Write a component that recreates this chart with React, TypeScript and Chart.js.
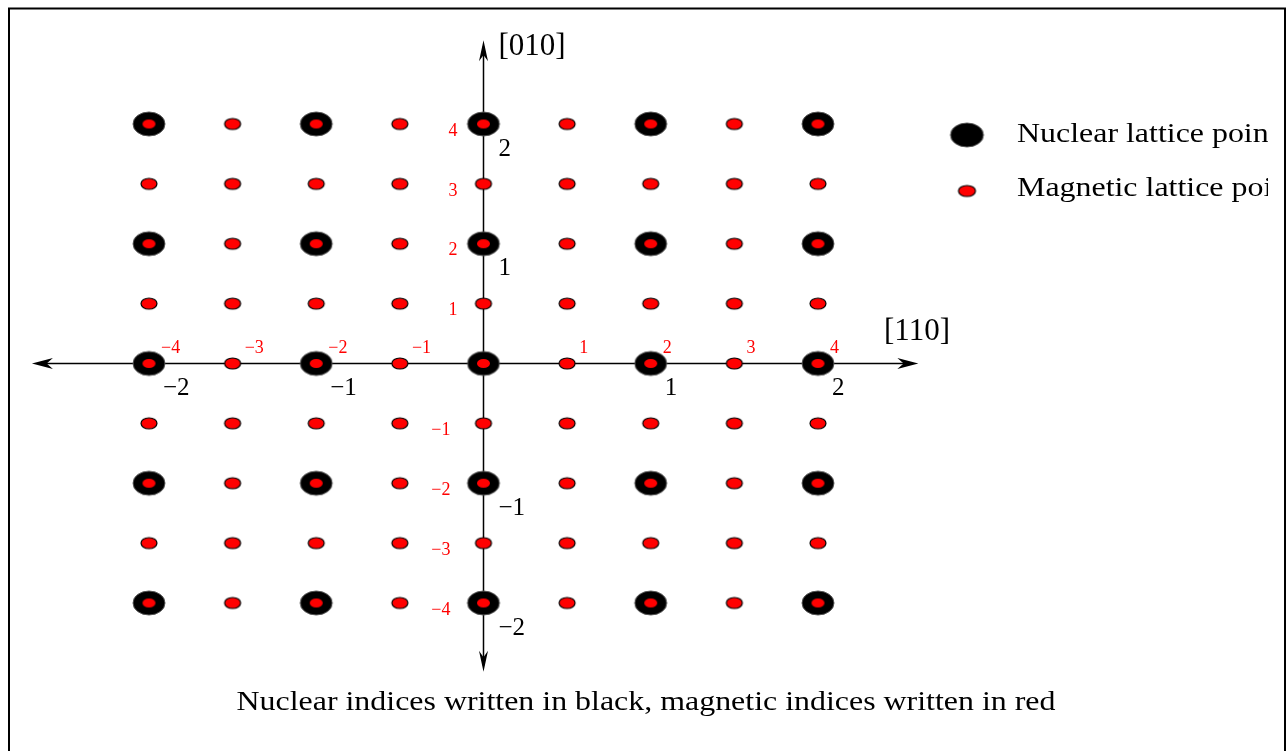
import React, { useEffect, useRef } from 'react';
import { Chart, registerables } from 'chart.js';

Chart.register(...registerables);

// ---- data (lattice indices) ----
const magneticH = [-4, -3, -2, -1, 0, 1, 2, 3, 4];
const magneticK = [-4, -3, -2, -1, 0, 1, 2, 3, 4];
const nuclearH = [-2, -1, 0, 1, 2];
const nuclearK = [-2, -1, 0, 1, 2];
const magneticTickValues = [-4, -3, -2, -1, 1, 2, 3, 4];
const magneticTickLabels = ['\u22124', '\u22123', '\u22122', '\u22121', '1', '2', '3', '4'];
const nuclearTickValues = [-2, -1, 1, 2];
const nuclearTickLabels = ['\u22122', '\u22121', '1', '2'];
const xAxisTitle = '[110]';
const yAxisTitle = '[010]';
const legendLabels = ['Nuclear lattice points', 'Magnetic lattice points'];
const caption = 'Nuclear indices written in black, magnetic indices written in red';

const W = 1288;
const H = 751;
const SERIF = '"Liberation Serif", "Times New Roman", Times, serif';

function makeEllipse(rx: number, ry: number, fill: string, stroke: string | null, lw: number) {
  const c = document.createElement('canvas');
  const pad = 2;
  c.width = Math.ceil(rx * 2 + pad * 2);
  c.height = Math.ceil(ry * 2 + pad * 2);
  const g = c.getContext('2d')!;
  g.beginPath();
  g.ellipse(c.width / 2, c.height / 2, rx, ry, 0, 0, Math.PI * 2);
  g.fillStyle = fill;
  g.fill();
  if (stroke) {
    g.lineWidth = lw;
    g.strokeStyle = stroke;
    g.stroke();
  }
  return c;
}

function drawText(
  ctx: CanvasRenderingContext2D,
  text: string,
  x: number,
  y: number,
  size: number,
  color: string,
  align: CanvasTextAlign,
  sx = 1
) {
  ctx.save();
  ctx.translate(x, y);
  ctx.scale(sx, 1);
  ctx.font = `${size}px ${SERIF}`;
  ctx.fillStyle = color;
  ctx.textAlign = align;
  ctx.textBaseline = 'middle';
  ctx.fillText(text, 0, 0);
  ctx.restore();
}

function arrowHead(ctx: CanvasRenderingContext2D, x: number, y: number, dir: 'l' | 'r' | 'u' | 'd', len: number, half: number) {
  ctx.save();
  ctx.translate(x, y);
  const rot = { r: 0, l: Math.PI, u: -Math.PI / 2, d: Math.PI / 2 }[dir];
  ctx.rotate(rot);
  ctx.beginPath();
  ctx.moveTo(0, 0);
  ctx.lineTo(-len, -half);
  ctx.lineTo(-len * 0.7, 0);
  ctx.lineTo(-len, half);
  ctx.closePath();
  ctx.fillStyle = '#000';
  ctx.fill();
  ctx.restore();
}

export default function App() {
  const ref = useRef<HTMLCanvasElement | null>(null);

  useEffect(() => {
    const canvas = ref.current;
    if (!canvas) return;
    let chart: Chart | null = null;
    let cancelled = false;

    const build = () => {
      if (cancelled) return;
      const nuclearImg = makeEllipse(16, 12, '#000', '#555', 1);
      const magneticImg = makeEllipse(8, 5.5, '#ff0000', '#000', 1.2);
      const innerImg = makeEllipse(6.5, 4.5, '#ff0000', null, 0);
      const legendNuclear = makeEllipse(16.5, 12, '#000', '#555', 1);
      const legendMagnetic = makeEllipse(8.5, 5.5, '#ff0000', '#000', 1.2);

      const magneticPts: { x: number; y: number }[] = [];
      magneticK.forEach((k) => magneticH.forEach((h) => magneticPts.push({ x: h, y: k })));
      const nuclearPts: { x: number; y: number }[] = [];
      nuclearK.forEach((k) => nuclearH.forEach((h) => nuclearPts.push({ x: 2 * h, y: 2 * k })));

      const isNuclear = (p: { x: number; y: number }) => p.x % 2 === 0 && p.y % 2 === 0;

      const decor = {
        id: 'decor',
        beforeDatasetsDraw(ch: any) {
          const ctx: CanvasRenderingContext2D = ch.ctx;
          const xs = ch.scales.x;
          const ys = ch.scales.y;
          const ox = xs.getPixelForValue(0);
          const oy = ys.getPixelForValue(0);
          ctx.save();
          ctx.fillStyle = '#fff';
          ctx.fillRect(0, 0, W, H);
          ctx.strokeStyle = '#000';
          ctx.lineWidth = 2;
          ctx.strokeRect(9, 8.5, 1276, 760);
          const xl = xs.getPixelForValue(-5.4);
          const xr = xs.getPixelForValue(5.2);
          const yt = ys.getPixelForValue(5.40);
          const yb = ys.getPixelForValue(-5.15);
          ctx.lineWidth = 1.5;
          ctx.beginPath();
          ctx.moveTo(xl + 6, oy);
          ctx.lineTo(xr - 6, oy);
          ctx.moveTo(ox, yt + 6);
          ctx.lineTo(ox, yb - 6);
          ctx.stroke();
          arrowHead(ctx, xl, oy, 'l', 21, 5.5);
          arrowHead(ctx, xr, oy, 'r', 21, 5.5);
          arrowHead(ctx, ox, yt, 'u', 21, 4.5);
          arrowHead(ctx, ox, yb, 'd', 21, 4.5);
          ctx.restore();
        },
        afterDatasetsDraw(ch: any) {
          const ctx: CanvasRenderingContext2D = ch.ctx;
          const xs = ch.scales.x;
          const ys = ch.scales.y;
          const ox = xs.getPixelForValue(0);
          const oy = ys.getPixelForValue(0);
          magneticTickValues.forEach((v, i) => {
            drawText(ctx, magneticTickLabels[i], xs.getPixelForValue(v) + 12, oy - 15, 18, '#ff0000', 'left');
            drawText(ctx, magneticTickLabels[i], ox - (v < 0 ? 33 : 26), ys.getPixelForValue(v) + 7, 18, '#ff0000', 'right');
          });
          nuclearTickValues.forEach((v, i) => {
            drawText(ctx, nuclearTickLabels[i], xs.getPixelForValue(2 * v) + 14, oy + 25, 25, '#000', 'left');
            drawText(ctx, nuclearTickLabels[i], ox + 15, ys.getPixelForValue(2 * v) + 25, 25, '#000', 'left');
          });
          drawText(ctx, yAxisTitle, ox + 15, 47, 31, '#000', 'left');
          drawText(ctx, xAxisTitle, 884, 332, 31, '#000', 'left');
          ctx.drawImage(legendNuclear, 967 - legendNuclear.width / 2, 135 - legendNuclear.height / 2);
          ctx.drawImage(legendMagnetic, 967 - legendMagnetic.width / 2, 191 - legendMagnetic.height / 2);
          ctx.save();
          ctx.beginPath();
          ctx.rect(0, 0, 1268, H);
          ctx.clip();
          drawText(ctx, legendLabels[0], 1017, 135, 28, '#000', 'left', 1.14);
          drawText(ctx, legendLabels[1], 1017, 189, 28, '#000', 'left', 1.14);
          ctx.restore();
          drawText(ctx, caption, 646, 703, 28, '#000', 'center', 1.14);
        },
      };

      chart = new Chart(canvas, {
        type: 'scatter',
        data: {
          datasets: [
            {
              label: legendLabels[1],
              data: magneticPts,
              pointStyle: (c: any) => (isNuclear(c.raw) ? innerImg : magneticImg),
              pointRadius: 6,
              pointHoverRadius: 6,
              order: 0,
            },
            {
              label: legendLabels[0],
              data: nuclearPts,
              pointStyle: nuclearImg,
              pointRadius: 12,
              pointHoverRadius: 12,
              order: 1,
            },
          ],
        },
        options: {
          responsive: false,
          animation: false,
          events: [],
          layout: { padding: 0, autoPadding: false },
          plugins: { legend: { display: false }, tooltip: { enabled: false } },
          scales: {
            x: { type: 'linear', display: false, min: -483.5 / 83.625, max: (W - 483.5) / 83.625 },
            y: { type: 'linear', display: false, min: -(H - 363.5) / 59.875, max: 363.5 / 59.875 },
          },
        },
        plugins: [decor],
      } as any);
    };

    const fonts: any = (document as any).fonts;
    if (fonts && fonts.load) {
      Promise.all([
        fonts.load('28px "Liberation Serif"'),
        fonts.load('18px "Liberation Serif"'),
      ])
        .catch(() => null)
        .then(() => build());
    } else {
      build();
    }

    return () => {
      cancelled = true;
      if (chart) chart.destroy();
    };
  }, []);

  return (
    <div style={{ position: 'absolute', left: 0, top: 0, width: W, height: H, background: '#fff', overflow: 'hidden' }}>
      <canvas ref={ref} width={W} height={H} style={{ display: 'block', width: W, height: H }} />
    </div>
  );
}
